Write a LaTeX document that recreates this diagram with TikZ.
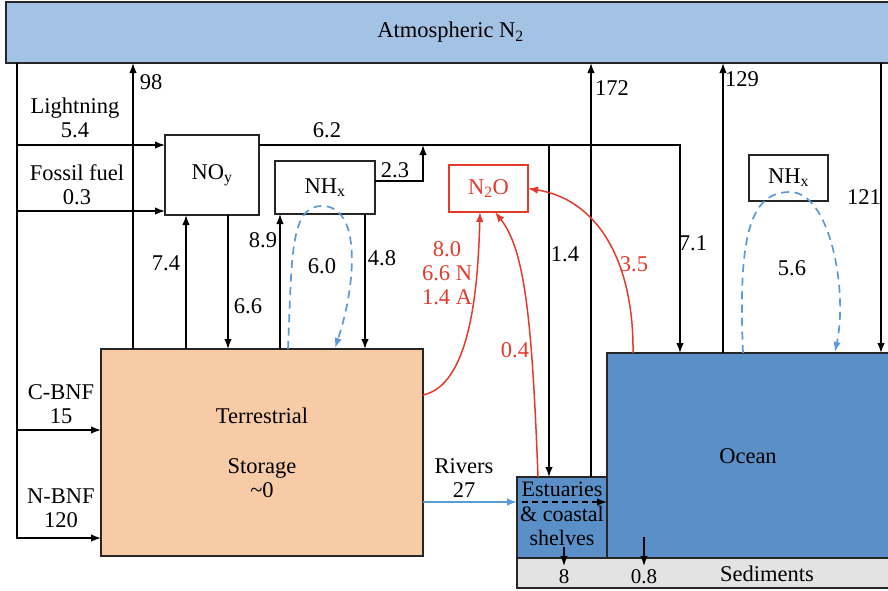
\documentclass[tikz,border=0pt]{standalone}
\usepackage{fontspec}
\setmainfont{Liberation Serif}
\usetikzlibrary{arrows.meta}
\definecolor{atmc}{HTML}{A4C2E4}
\definecolor{oceanc}{HTML}{5A8FC8}
\definecolor{terrc}{HTML}{F8CBA7}
\definecolor{sedc}{HTML}{E3E3E3}
\definecolor{redc}{HTML}{E33A2C}
\definecolor{bluec}{HTML}{5B9BD5}
\tikzset{
  box/.style={draw=black!85, line width=1.5pt, inner sep=0pt, outer sep=0pt, anchor=north west},
  arr/.style={line width=1.5pt, -{Latex[length=10pt,width=7.5pt]}},
  redarr/.style={line width=1.5pt, draw=redc, -{Latex[length=10pt,width=7.5pt]}},
  dashloop/.style={line width=1.7pt, draw=bluec, dash pattern=on 8pt off 5.5pt, -{Latex[length=10pt,width=7.5pt]}},
  lbl/.style={align=center, inner sep=0pt},
  rlbl/.style={align=center, inner sep=0pt, text=redc}
}
\begin{document}
\begin{tikzpicture}[x=1pt,y=-1pt, font=\fontsize{22.5}{24}\selectfont]
\useasboundingbox (0,0) rectangle (888,590);
% boxes
\node[box, fill=atmc, minimum width=889pt, minimum height=61pt] (atm) at (6,2) {Atmospheric N\textsubscript{2}};
\node[box, minimum width=94pt, minimum height=80pt] (noy) at (165,135) {NO\textsubscript{y}};
\node[box, minimum width=100pt, minimum height=53pt] (nhx) at (275,161) {NH\textsubscript{x}};
\node[box, draw=redc, text=redc, minimum width=79pt, minimum height=47pt] (n2o) at (449,165) {N\textsubscript{2}O};
\node[box, minimum width=79pt, minimum height=46pt] (nhxo) at (749,155) {NH\textsubscript{x}};
\node[box, fill=terrc, minimum width=322pt, minimum height=207pt, align=center] (terr) at (101,349) {Terrestrial\\[26pt]Storage\\\textasciitilde 0};
\node[box, fill=oceanc, minimum width=293pt, minimum height=205pt] (ocean) at (607,353) {};
\node[box, fill=oceanc, minimum width=90pt, minimum height=81pt] (est) at (517,477) {};
\node[box, fill=sedc, minimum width=383pt, minimum height=30pt] (sed) at (517,558) {};
\node[lbl] (oceantxt) at (748,456) {Ocean};
\node[lbl] (sedtxt) at (767,574) {Sediments};
\node[lbl, font=\fontsize{22}{24.5}\selectfont] (esttxt) at (562,514) {Estuaries\\\& coastal\\shelves};

% left inputs
\draw[arr] (atm.south -| 17,0) |- (terr.west |- 0,538);
\draw[arr] (17,145) -- (noy.west |- 0,145);
\draw[arr] (17,211) -- (noy.west |- 0,211);
\draw[arr] (17,430) -- (terr.west |- 0,430);

% terrestrial up/down
\draw[arr] (terr.north -| 133,0) -- (atm.south -| 133,0);
\draw[arr] (terr.north -| 186,0) -- (noy.south -| 186,0);
\draw[arr] (noy.south -| 228,0) -- (terr.north -| 228,0);
\draw[arr] (terr.north -| 280,0) -- (nhx.south -| 280,0);
\draw[arr] (nhx.south -| 365,0) -- (terr.north -| 365,0);

% 6.2 line
\draw[arr] (noy.east |- 0,145) -| (ocean.north -| 680,0);
\draw[arr] (nhx.east |- 0,181) -| (423,145);
\draw[arr] (549,145) -- (est.north -| 549,0);

% to atmosphere
\draw[arr] (est.north -| 591,0) -- (atm.south -| 591,0);
\draw[arr] (ocean.north -| 723,0) -- (atm.south -| 723,0);
\draw[arr] (atm.south -| 881,0) -- (ocean.north -| 881,0);

% dashed loops
\draw[dashloop] (terr.north -| 288,0) .. controls (292,255) and (290,206) .. (322,206) .. controls (362,206) and (356,285) .. (335,348);
\draw[dashloop] (ocean.north -| 743,0) .. controls (738,235) and (750,192) .. (790,192) .. controls (830,192) and (848,290) .. (835,352);

% red N2O fluxes
\draw[redarr] (terr.east |- 0,395) .. controls (470,385) and (478,290) .. (n2o.south -| 480,0);
\draw[redarr] (est.north -| 538,0) .. controls (532,320) and (525,250) .. (n2o.south -| 495,0);
\draw[redarr] (ocean.north -| 633,0) .. controls (634,265) and (600,200) .. (n2o.east);

% rivers
\draw[line width=1.5pt, draw=bluec, -{Latex[length=10pt,width=7.5pt]}] (terr.east |- 0,502) -- (est.west |- 0,502);
\draw[line width=1.5pt, dash pattern=on 6pt off 4pt, -{Latex[length=10pt,width=7.5pt]}] ([xshift=5pt]est.west |- 0,502) -- (ocean.west |- 0,502);

% sediment fluxes
\draw[arr] (564,547) -- (564,566);
\draw[arr] (644,537) -- (644,566);

% labels
\node[lbl] (l98) at (151,82) {98};
\node[lbl] (llight) at (75,118) {Lightning\\5.4};
\node[lbl] (lfossil) at (77,185) {Fossil fuel\\0.3};
\node[lbl] (l62) at (327,130) {6.2};
\node[lbl] (l23) at (395,170) {2.3};
\node[lbl] (l74) at (166,263) {7.4};
\node[lbl] (l66) at (248,306) {6.6};
\node[lbl] (l89) at (263,240) {8.9};
\node[lbl] (l60) at (322,266) {6.0};
\node[lbl] (l48) at (382,258) {4.8};
\node[rlbl] (l80) at (447,273) {8.0\\6.6 N\\1.4 A};
\node[rlbl] (l04) at (515,350) {0.4};
\node[lbl] (l14) at (565,254) {1.4};
\node[lbl] (l172) at (612,88) {172};
\node[rlbl] (l35) at (634,264) {3.5};
\node[lbl] (l71) at (693,243) {7.1};
\node[lbl] (l129) at (742,79) {129};
\node[lbl] (l121) at (864,197) {121};
\node[lbl] (l56) at (792,268) {5.6};
\node[lbl] (lcbnf) at (61,404) {C-BNF\\15};
\node[lbl] (lnbnf) at (61,508) {N-BNF\\120};
\node[lbl] (lriv) at (464,478) {Rivers\\27};
\node[lbl, font=\fontsize{21}{24}\selectfont] (l8) at (564,577) {8};
\node[lbl, font=\fontsize{21}{24}\selectfont] (l08) at (644,577) {0.8};
\end{tikzpicture}
\end{document}
